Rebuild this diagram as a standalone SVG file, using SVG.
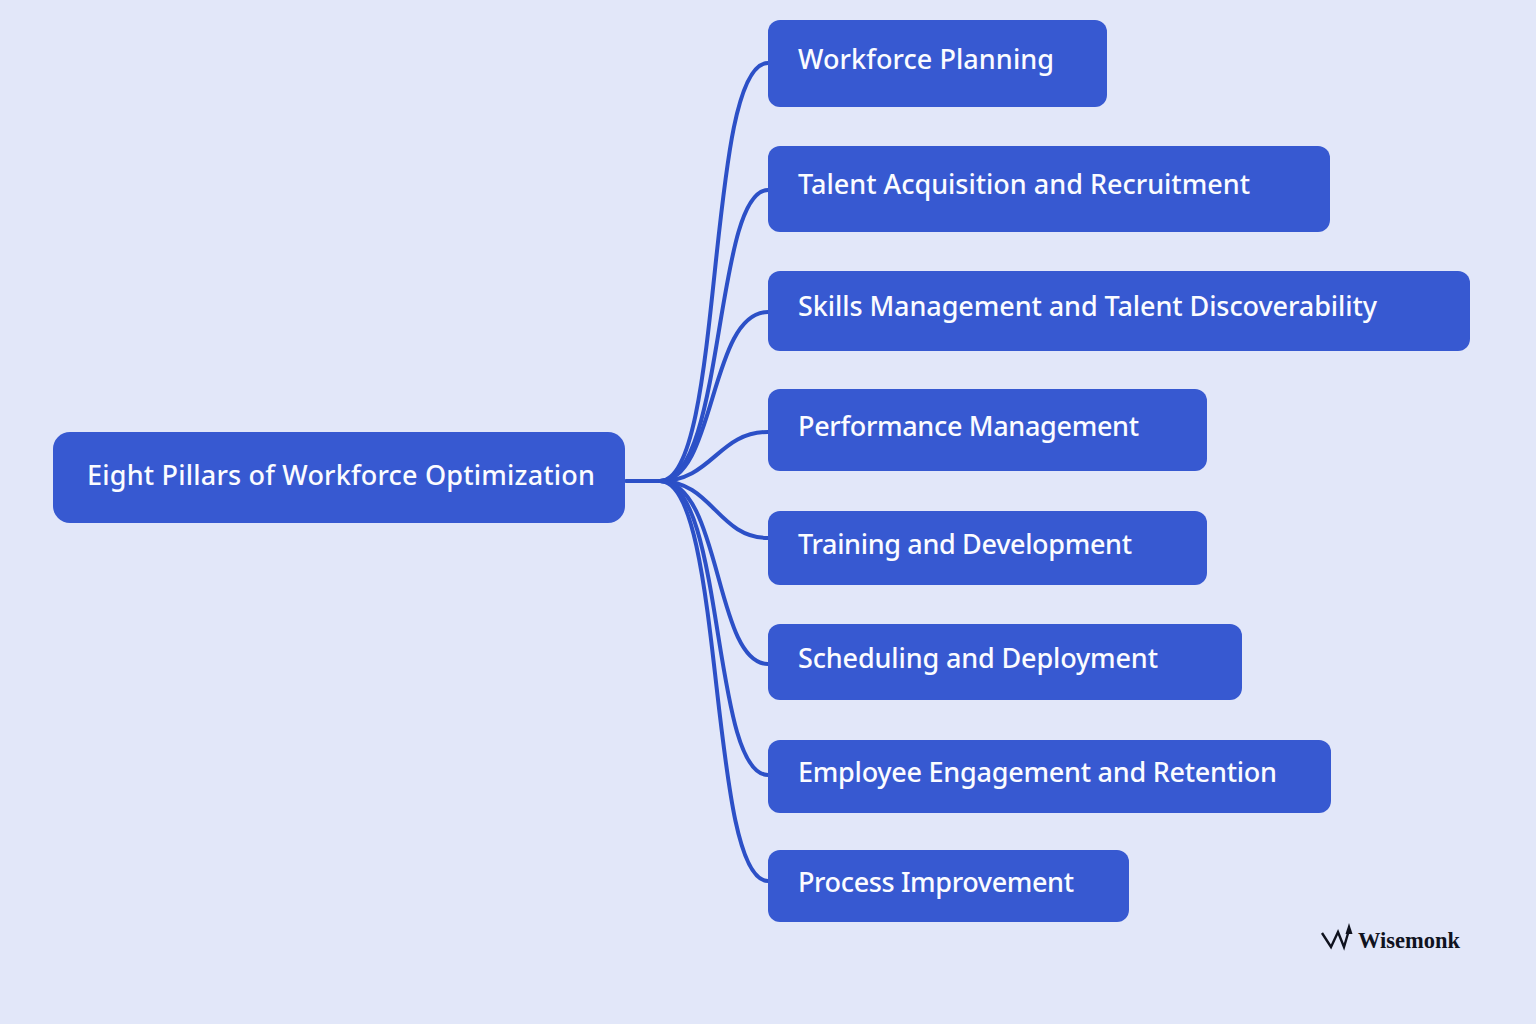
<svg xmlns="http://www.w3.org/2000/svg" width="1536" height="1024" viewBox="0 0 1536 1024">
<style>
.n{fill:#3759d1}
.t{font-family:"Noto Sans","Open Sans",sans-serif;font-size:27px;font-weight:500;fill:#fbfcff}
.c{fill:none;stroke:#2c50c7;stroke-width:4;stroke-linecap:round}
</style>
<rect width="1536" height="1024" fill="#e2e7f9"/>
<g id="connectors">
<path class="c" d="M626 481H660C725 481 705 63 768 63"/>
<path class="c" d="M660 481C725 481 714 190 768 190"/>
<path class="c" d="M660 481C716 481 709 312 768 312"/>
<path class="c" d="M660 481C712 481 718 432 768 432"/>
<path class="c" d="M660 481C712 481 718 538 768 538"/>
<path class="c" d="M660 481C722 481 714 664 768 664"/>
<path class="c" d="M660 481C725 481 711 775 768 775"/>
<path class="c" d="M660 481C725 481 708 881 768 881"/>
</g>
<g id="root"><rect class="n" x="53" y="432" width="572" height="91" rx="17"/><text class="t" x="87" y="485" textLength="508">Eight Pillars of Workforce Optimization</text></g>
<g id="n1"><rect class="n" x="768" y="20" width="339" height="87" rx="12"/><text class="t" x="798" y="69" textLength="256">Workforce Planning</text></g>
<g id="n2"><rect class="n" x="768" y="146" width="562" height="86" rx="12"/><text class="t" x="798" y="194" textLength="452">Talent Acquisition and Recruitment</text></g>
<g id="n3"><rect class="n" x="768" y="271" width="702" height="80" rx="12"/><text class="t" x="798" y="316" textLength="579">Skills Management and Talent Discoverability</text></g>
<g id="n4"><rect class="n" x="768" y="389" width="439" height="82" rx="12"/><text class="t" x="798" y="436" textLength="341">Performance Management</text></g>
<g id="n5"><rect class="n" x="768" y="511" width="439" height="74" rx="12"/><text class="t" x="798" y="554" textLength="334">Training and Development</text></g>
<g id="n6"><rect class="n" x="768" y="624" width="474" height="76" rx="12"/><text class="t" x="798" y="668" textLength="360">Scheduling and Deployment</text></g>
<g id="n7"><rect class="n" x="768" y="740" width="563" height="73" rx="12"/><text class="t" x="798" y="782" textLength="479">Employee Engagement and Retention</text></g>
<g id="n8"><rect class="n" x="768" y="850" width="361" height="72" rx="12"/><text class="t" x="798" y="892" textLength="276">Process Improvement</text></g>
<g id="logo">
<path d="M1322 933L1331 947L1338 932L1344 947L1349 930" fill="none" stroke="#10131f" stroke-width="2.400"/>
<path d="M1349 923L1352.500 934H1345.500Z" fill="#10131f"/>
<text x="1358" y="948" font-family="Liberation Serif,serif" font-size="22.500" font-weight="700" fill="#10131f">Wisemonk</text>
</g>
</svg>
